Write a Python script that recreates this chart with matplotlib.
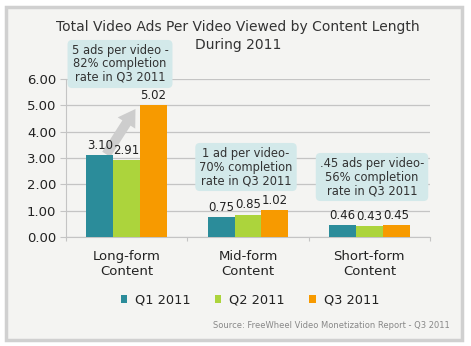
import matplotlib
matplotlib.use("Agg")
import matplotlib.pyplot as plt
import numpy as np
from matplotlib.patches import Rectangle

categories = ["Long-form\nContent", "Mid-form\nContent", "Short-form\nContent"]
series_names = ["Q1 2011", "Q2 2011", "Q3 2011"]
q1 = [3.10, 0.75, 0.46]
q2 = [2.91, 0.85, 0.43]
q3 = [5.02, 1.02, 0.45]
yticks = [0, 1, 2, 3, 4, 5, 6]
notes = ["5 ads per video -\n82% completion\nrate in Q3 2011",
         "1 ad per video-\n70% completion\nrate in Q3 2011",
         ".45 ads per video-\n56% completion\nrate in Q3 2011"]
title_lines = ["Total Video Ads Per Video Viewed by Content Length", "During 2011"]
colors = ["#2b8c9a", "#acd43c", "#f79a00"]

fig = plt.figure(figsize=(4.71, 3.46), dpi=100)
fig.patch.set_facecolor("white")
# outer frame
fig.patches.append(Rectangle((6/471, 6/346), 456/471, 333/346, transform=fig.transFigure,
                             facecolor="#f4f4f2", edgecolor="#d0d0d0", linewidth=2.5, zorder=-10))

ax = fig.add_axes([66/471, 1-237/346, 364/471, 158/346])
ax.set_facecolor("none")
ax.set_xlim(0, 3)
ax.set_ylim(0, 6)
x = np.arange(3) + 0.5
w = 0.222
series = [q1, q2, q3]
for i, (vals, c) in enumerate(zip(series, colors)):
    xs = x + (i - 1) * w
    ax.bar(xs, vals, width=w, color=c, zorder=3, label=series_names[i])
    for xi, v in zip(xs, vals):
        ax.text(xi, v + 0.12, f"{v:.2f}", ha="center", va="bottom", fontsize=8.5, color="#222222", zorder=4)

ax.set_yticks(yticks)
ax.set_yticklabels([f"{t:.2f}" for t in yticks], fontsize=9.5, color="#222222")
ax.yaxis.grid(True, color="#c4c4c4", linewidth=0.9, zorder=0)
ax.set_axisbelow(True)
ax.set_xticks([0, 1, 2, 3])
ax.set_xticklabels([])
ax.tick_params(axis="x", length=3, color="#c4c4c4", direction="out")
ax.tick_params(axis="y", length=4, color="#c4c4c4", pad=3)
for s in ["top", "right"]:
    ax.spines[s].set_visible(False)
for s in ["left", "bottom"]:
    ax.spines[s].set_color("#c4c4c4")
for xi, lab in zip(x, categories):
    ax.text(xi, -0.5, lab, ha="center", va="top", fontsize=9.5, color="#222222", linespacing=1.2)

# annotation boxes
box_pos = [(120, 64), (246, 167), (372, 177)]
for (cx, cy), t in zip(box_pos, notes):
    fig.text(cx/471, 1-cy/346, t, ha="center", va="center", fontsize=8.3, color="#333333",
             linespacing=1.05,
             bbox=dict(boxstyle="round,pad=0.35,rounding_size=0.4", facecolor="#d3e9ea", edgecolor="none"),
             zorder=5)

# arrow from Q1 bar up toward Q3 bar
ax.annotate("", xy=(0.585, 4.95), xytext=(0.32, 3.05),
            arrowprops=dict(arrowstyle="simple,head_width=1.5,head_length=1.2,tail_width=0.7",
                            facecolor="#cdcdcd", edgecolor="none"), zorder=2)

fig.text(238/471, 1-27/346, title_lines[0], ha="center", va="center", fontsize=10, color="#333333")
fig.text(238/471, 1-45/346, title_lines[1], ha="center", va="center", fontsize=10, color="#333333")

leg = ax.legend(loc="center", bbox_to_anchor=(0.505, (300-237)/-158), ncol=3, frameon=False,
                fontsize=9.3, handlelength=0.5, handleheight=0.5, columnspacing=1.9, handletextpad=0.6)
for txt in leg.get_texts():
    txt.set_color("#222222")

fig.text(450/471, 1-325/346, "Source: FreeWheel Video Monetization Report - Q3 2011",
         ha="right", va="center", fontsize=6.0, color="#888888")

fig.savefig("out.png", dpi=100, facecolor=fig.get_facecolor())
